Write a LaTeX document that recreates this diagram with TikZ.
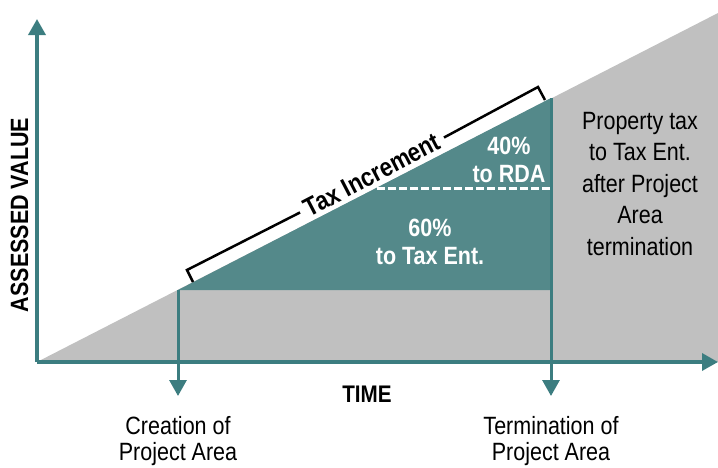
\documentclass[tikz,border=0pt]{standalone}
\usepackage{fontspec}
\setmainfont{Liberation Sans}[FakeStretch=0.86]
\usetikzlibrary{positioning, arrows.meta}
\definecolor{tealfill}{RGB}{84,137,138}
\definecolor{tealaxis}{RGB}{60,125,128}
\definecolor{basegray}{RGB}{192,192,192}
\tikzset{
    x=1pt, y=-1pt, % one unit is one point, counted from the top left
    axis/.style={draw=tealaxis, line width=3.5pt, -{Triangle[length=16pt, width=17pt]}}, % value and time axes
    marker/.style={draw=tealaxis, line width=3pt, -{Triangle[length=16pt, width=17pt]}}, % start and end of the project area
    }

\begin{document}
\begin{tikzpicture}[plaintext/.style={inner sep=0pt, align=center, font=\fontsize{25}{26}\selectfont},
    boldtext/.style={plaintext, font=\fontsize{25}{28}\bfseries},
    sharetext/.style={boldtext, text=white},
    bracket/.style={draw=black, line width=2.5pt}]
\useasboundingbox (0,0) rectangle (718,467);

\coordinate (origin) at (37,362);
\coordinate (ytop) at (37,19);
\coordinate (xend) at (718,362);
\coordinate (vtop) at (718,13);
\coordinate (cre) at (178,290);
\coordinate (term) at (551,98);
\coordinate (termbase) at (551,290);
\coordinate (cremark) at (178,396);
\coordinate (termmark) at (551,396);
\coordinate (split) at (377,188);
\coordinate (splitend) at (551,188);

% assessed value under the line
\fill[basegray] (origin) -- (vtop) -- (xend) -- cycle;
\fill[tealfill] (cre) -- (term) -- (termbase) -- cycle;
\draw[white, line width=3pt, dash pattern=on 8pt off 3pt] (split) -- (splitend);

\draw[marker] (cre) -- (cremark);
\draw[marker] (term) -- (termmark);
\draw[axis] (origin) -- (ytop);
\draw[axis] (origin) -- (xend);

\node[boldtext, rotate=90, anchor=base] (valuename) at (28,215) {ASSESSED VALUE};
\node[boldtext, font=\fontsize{24}{28}\bfseries, anchor=base] (timename) at (367,402) {TIME};
\node[plaintext, below=20pt of cremark] (crename) {Creation of\\Project Area};
\node[plaintext, below=20pt of termmark] (termname) {Termination of\\Project Area};

\node[sharetext, anchor=north] (rdashare) at (509,137) {40\%\\to RDA};
\node[sharetext, anchor=north] (entshare) at (430,219) {60\%\\to Tax Ent.};
\node[plaintext, font=\fontsize{25}{31.5}\selectfont, anchor=north] (after) at (640,112)
    {Property tax\\to Tax Ent.\\after Project\\Area\\termination};

% bracket over the increment
\coordinate (brA) at (187,270);
\coordinate (brB) at (538,87);
\coordinate (tickA) at (193,282);
\coordinate (tickB) at (545,100);
\node[boldtext, font=\fontsize{26}{28}\bfseries, rotate=27.5, inner xsep=6pt] (incr) at (372,175) {Tax Increment};
\draw[bracket] (tickA) -- (brA) -- (incr.west);
\draw[bracket] (incr.east) -- (brB) -- (tickB);

\end{tikzpicture}
\end{document}
